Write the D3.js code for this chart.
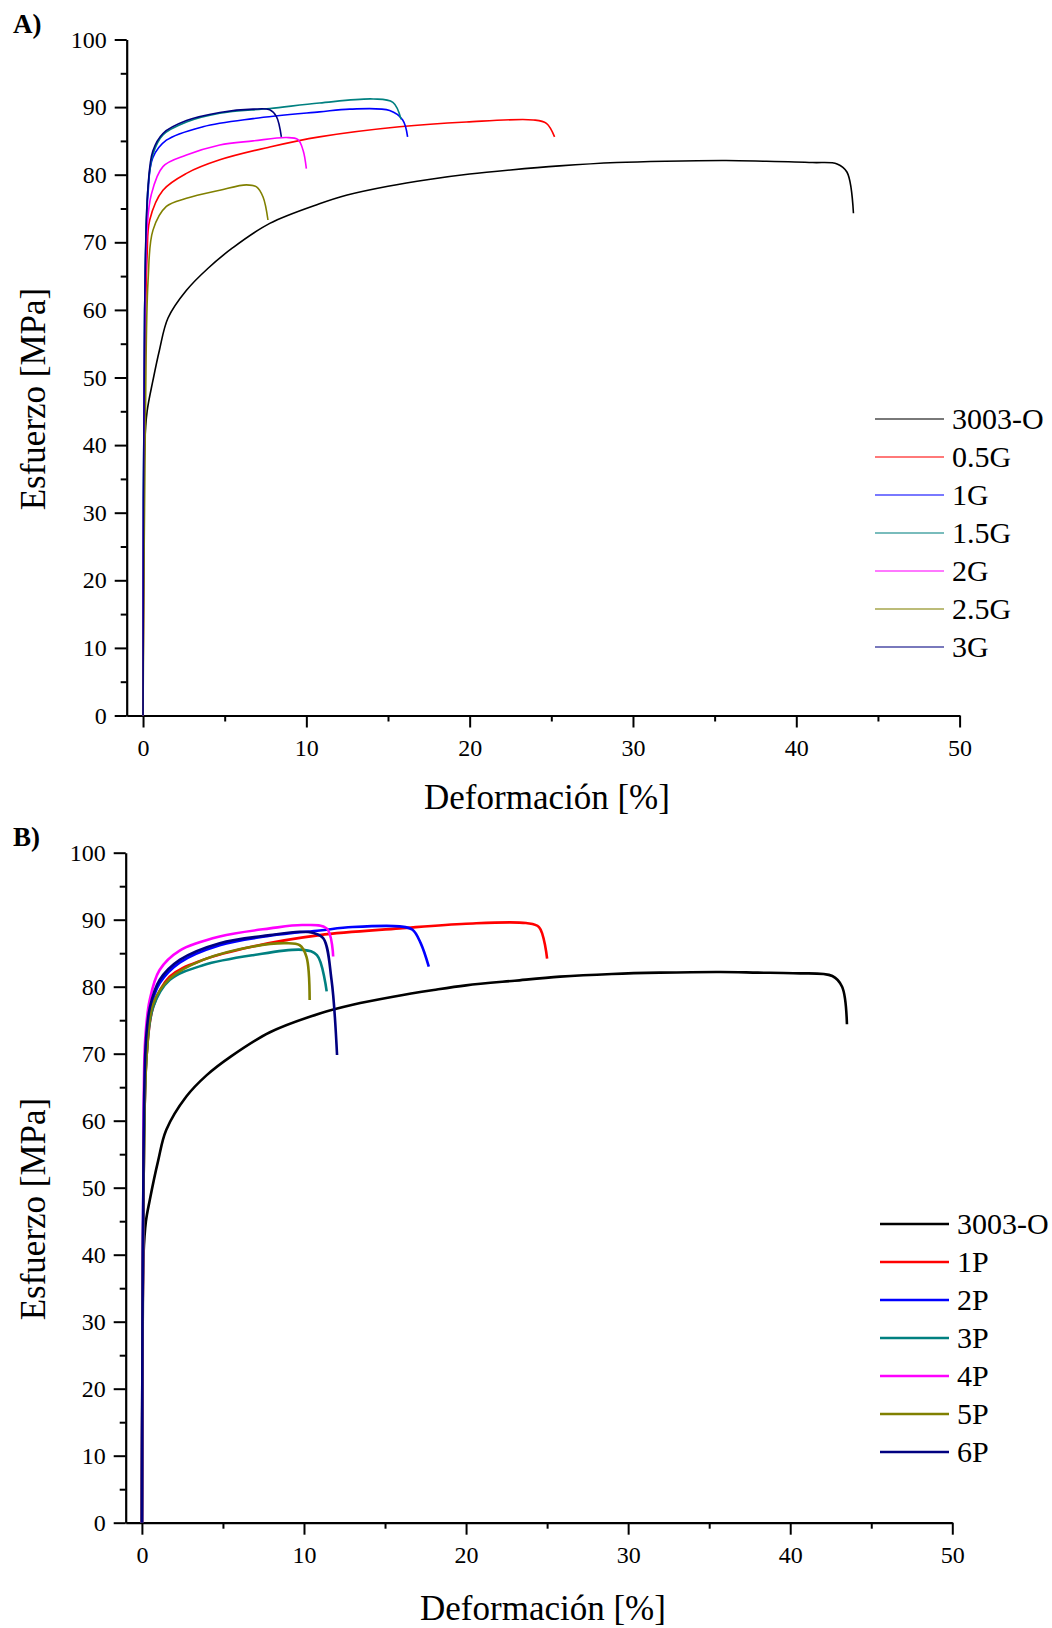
<!DOCTYPE html>
<html>
<head>
<meta charset="utf-8">
<script src="https://cdn.jsdelivr.net/npm/d3@7"></script>
<style>
  body { margin: 0; background: #fff; }
  svg text { font-family: "Liberation Serif", "Times New Roman", Times, serif; fill: #000; }
</style>
</head>
<body>
<svg id="chart" width="1052" height="1628" font-family="Liberation Serif"></svg>
<script>
// ---- data: [strain %, stress MPa] ----
const a3003O = [[0,0],[0.05,30],[0.1,40],[0.25,45],[0.61,49.6],[1.0,54],[1.53,58.8],[2.66,62.9],[4.0,66.2],[5.5,69.2],[7.76,72.8],[10.8,75.7],[12.5,77.0],[15,78.3],[17.5,79.3],[20,80.1],[22.5,80.7],[25.5,81.3],[29,81.8],[32,82.0],[35.7,82.1],[38,82.0],[41,81.8],[42.5,81.6],[43.1,80.4],[43.5,74.3]];
const a05G = [[0,0],[0.1,50],[0.25,68],[0.41,73.3],[1.22,77.7],[2.66,80.2],[4.7,82.2],[7.76,84.1],[10.8,85.6],[15.7,87.1],[19.8,87.8],[23.9,88.1],[24.7,87.6],[25.2,85.6]];
const a1G = [[0,0],[0.1,60],[0.3,77],[0.6,82.5],[1.43,85.1],[3.67,87.1],[6.74,88.3],[10.8,89.3],[12.66,89.7],[15.1,89.5],[15.9,88.1],[16.2,85.6]];
const a15G = [[0,0],[0.1,60],[0.3,78],[0.6,83],[1.22,85.9],[2.66,87.8],[4.7,89.1],[7.76,89.8],[10.8,90.6],[14.1,91.2],[15.3,90.7],[15.8,88.2]];
const a2G = [[0,0],[0.1,55],[0.25,72],[0.5,77],[1.22,81.2],[2.66,82.9],[4.7,84.4],[6.74,85.0],[8.78,85.5],[9.49,85.2],[9.8,83.6],[10.0,80.9]];
const a25G = [[0,0],[0.15,45],[0.31,64.4],[0.61,71.8],[1.43,75.3],[2.66,76.5],[4.7,77.7],[6.33,78.5],[6.95,78.2],[7.35,76.7],[7.65,73.3]];
const a3G = [[0,0],[0.1,60],[0.3,78],[0.6,83.5],[1.22,86.1],[2.66,88.0],[4.7,89.2],[6.74,89.7],[7.76,89.6],[8.17,88.6],[8.47,85.6]];

const b3003O = [[0,0],[0.05,30],[0.1,40],[0.25,45],[0.48,48.1],[1.0,54],[1.5,58.6],[2.74,63.6],[4.0,66.8],[5.5,69.6],[7.9,73.2],[10.97,76.0],[13,77.3],[15.5,78.5],[18,79.5],[20,80.2],[23,80.9],[25.8,81.5],[29,81.9],[31.96,82.1],[35.7,82.2],[38,82.1],[40.2,82.0],[42.6,81.6],[43.2,80.0],[43.5,74.4]];
const b1P = [[0,0],[0.1,50],[0.3,70],[0.7,77],[1.71,81.5],[3.77,84.0],[6.85,86.0],[10.97,87.7],[15.9,88.7],[20.0,89.4],[23.7,89.5],[24.5,88.9],[25.0,84.2]];
const b2P = [[0,0],[0.1,55],[0.25,72],[0.5,76.5],[1.09,80.5],[2.33,83.6],[4.8,86.2],[7.9,87.6],[10.97,88.4],[13.0,88.9],[15.9,89.0],[16.7,88.5],[17.2,86.5],[17.7,83.0]];
const b3P = [[0,0],[0.1,50],[0.3,70],[0.7,77],[1.71,81.0],[3.77,83.2],[6.85,84.7],[9.94,85.5],[10.8,84.7],[11.4,79.3]];
const b4P = [[0,0],[0.1,55],[0.2,72],[0.48,78.0],[1.09,82.5],[2.33,85.4],[4.8,87.5],[7.9,88.7],[9.94,89.2],[11.4,88.7],[11.8,84.5]];
const b5P = [[0,0],[0.1,50],[0.3,70],[0.7,77.5],[1.71,81.2],[3.77,84.0],[6.85,86.0],[8.9,86.5],[9.73,86.2],[10.15,84.5],[10.35,78.0]];
const b6P = [[0,0],[0.1,55],[0.25,72],[0.5,77],[1.09,81.0],[2.33,84.0],[4.8,86.5],[7.9,87.7],[9.73,88.2],[10.6,88.0],[11.2,87.2],[11.7,81.0],[12.04,69.8]];

const namesA = ["3003-O", "0.5G", "1G", "1.5G", "2G", "2.5G", "3G"];
const namesB = ["3003-O", "1P", "2P", "3P", "4P", "5P", "6P"];
const seriesA = [a3003O, a05G, a1G, a15G, a2G, a25G, a3G];
const seriesB = [b3003O, b1P, b2P, b3P, b4P, b5P, b6P];
const colors = ["#000000", "#ff0000", "#0000ff", "#008080", "#ff00ff", "#808000", "#000080"];

const xMajor = [0, 10, 20, 30, 40, 50];
const xMinor = [5, 15, 25, 35, 45];
const yMajor = [0, 10, 20, 30, 40, 50, 60, 70, 80, 90, 100];
const yMinor = [5, 15, 25, 35, 45, 55, 65, 75, 85, 95];

const FONT = '"Liberation Serif", "Times New Roman", Times, serif';
const svg = d3.select("#chart");

function drawPanel(cfg) {
  const x = d3.scaleLinear().domain([-1, 50]).range([cfg.x0, cfg.x1]);
  const y = d3.scaleLinear().domain([0, 100]).range([cfg.y0, cfg.y1]);
  const g = svg.append("g");

  // minor ticks (no labels)
  g.append("g")
    .attr("transform", `translate(0,${cfg.y0})`)
    .call(d3.axisBottom(x).tickValues(xMinor).tickSize(6).tickFormat(""))
    .call(a => a.select(".domain").remove());
  g.append("g")
    .attr("transform", `translate(${cfg.x0},0)`)
    .call(d3.axisLeft(y).tickValues(yMinor).tickSize(6).tickFormat(""))
    .call(a => a.select(".domain").remove());

  const xAxis = g.append("g")
    .attr("transform", `translate(0,${cfg.y0})`)
    .call(d3.axisBottom(x).tickValues(xMajor).tickSize(12).tickSizeOuter(0).tickPadding(11));
  const yAxis = g.append("g")
    .attr("transform", `translate(${cfg.x0},0)`)
    .call(d3.axisLeft(y).tickValues(yMajor).tickSize(12).tickSizeOuter(0).tickPadding(8));

  g.selectAll(".domain").attr("stroke-width", 2.2);
  g.selectAll(".tick line").attr("stroke-width", 2);
  [xAxis, yAxis].forEach(a => {
    a.attr("font-family", FONT).attr("font-size", 24);
    a.selectAll("text").attr("font-family", FONT).attr("font-size", 24);
  });

  // curves
  const line = d3.line()
    .x(d => x(d[0]))
    .y(d => y(d[1]))
    .curve(d3.curveCatmullRom.alpha(0.5));

  g.selectAll(".curve")
    .data(cfg.series)
    .enter()
    .append("path")
    .attr("class", "curve")
    .attr("d", line)
    .attr("fill", "none")
    .attr("stroke", (d, i) => colors[i])
    .attr("stroke-width", cfg.lw)
    .attr("stroke-linejoin", "round");

  // axis titles
  g.append("text")
    .attr("x", cfg.xTitle[0]).attr("y", cfg.xTitle[1])
    .attr("text-anchor", "middle")
    .attr("font-size", 35)
    .text("Deformación [%]");
  g.append("text")
    .attr("transform", `translate(${cfg.yTitle[0]},${cfg.yTitle[1]}) rotate(-90)`)
    .attr("text-anchor", "middle")
    .attr("font-size", 35)
    .text("Esfuerzo [MPa]");

  // panel letter
  g.append("text")
    .attr("x", 13).attr("y", cfg.letterY)
    .attr("font-size", 27)
    .attr("font-weight", "bold")
    .text(cfg.letter);

  // legend
  const leg = g.selectAll(".leg")
    .data(cfg.names)
    .enter()
    .append("g")
    .attr("transform", (d, i) => `translate(0,${cfg.legY + i * 38})`);
  leg.append("line")
    .attr("x1", cfg.legX).attr("x2", cfg.legX + 69)
    .attr("stroke", (d, i) => colors[i])
    .attr("stroke-width", cfg.legLw)
    .attr("stroke-opacity", cfg.legOp);
  leg.append("text")
    .attr("x", cfg.legX + 77).attr("y", 10)
    .attr("font-size", 30)
    .text(d => d);
}

drawPanel({
  x0: 126.7, x1: 959.6, y0: 715.5, y1: 39.5,
  series: seriesA, names: namesA, lw: 1.6,
  xTitle: [547, 809], yTitle: [45, 399],
  letter: "A)", letterY: 33,
  legX: 875, legY: 419, legLw: 1.5, legOp: 0.7
});

drawPanel({
  x0: 125.7, x1: 952.3, y0: 1522.7, y1: 852.7,
  series: seriesB, names: namesB, lw: 2.6,
  xTitle: [543, 1620], yTitle: [45, 1209],
  letter: "B)", letterY: 846,
  legX: 880, legY: 1224, legLw: 2.5, legOp: 1
});
</script>
</body>
</html>
